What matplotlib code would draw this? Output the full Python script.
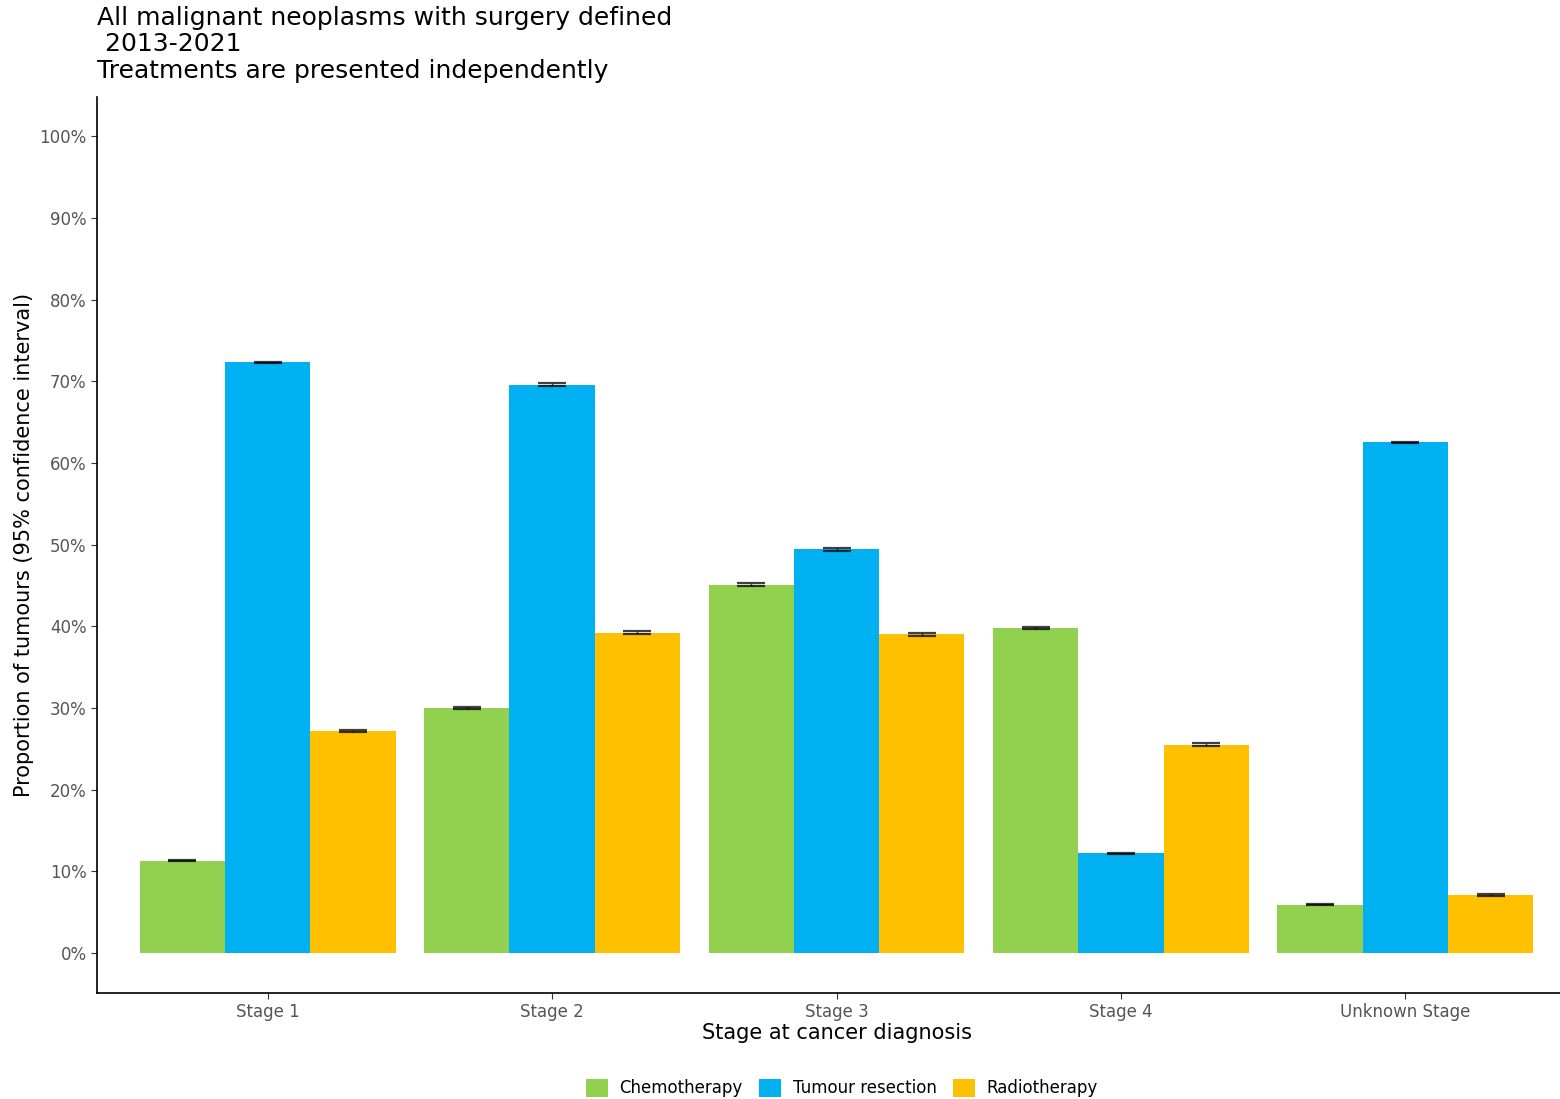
import numpy as np
import matplotlib
matplotlib.use("Agg")
import matplotlib.pyplot as plt
from matplotlib.ticker import FuncFormatter

plt.rcParams['font.family'] = ['DejaVu Sans']

stages = ["Stage 1", "Stage 2", "Stage 3", "Stage 4", "Unknown Stage"]
treatments = ["Chemotherapy", "Tumour resection", "Radiotherapy"]
chemo = [11.3, 30.0, 45.1, 39.8, 5.9]
resection = [72.3, 69.6, 49.4, 12.2, 62.5]
radio = [27.2, 39.2, 39.0, 25.5, 7.1]
chemo_ci = [0.10, 0.15, 0.20, 0.15, 0.08]
resection_ci = [0.10, 0.15, 0.20, 0.10, 0.10]
radio_ci = [0.12, 0.18, 0.20, 0.15, 0.08]
colors = ["#92d050", "#00b0f0", "#ffc000"]

fig = plt.figure(figsize=(15.6, 10.99), dpi=100)
ax = fig.add_axes([97 / 1560, 1 - 993 / 1099, (1576 - 97) / 1560, (993 - 97) / 1099])

x = np.arange(len(stages))
w = 0.3
series = [chemo, resection, radio]
cis = [chemo_ci, resection_ci, radio_ci]
for i, (vals, ci, col, lab) in enumerate(zip(series, cis, colors, treatments)):
    pos = x + (i - 1) * w
    ax.bar(pos, vals, width=w, color=col, label=lab, linewidth=0)
    ax.errorbar(pos, vals, yerr=ci, fmt="none", ecolor="black", elinewidth=1,
                capsize=10, capthick=1.6, alpha=0.75)

ax.set_xlim(-0.6, 4.6)
ax.set_ylim(-4.9, 104.8)
ax.set_yticks(np.arange(0, 101, 10))
ax.yaxis.set_major_formatter(FuncFormatter(lambda v, p: f"{int(v)}%"))
ax.set_xticks(x)
ax.set_xticklabels(stages)
ax.tick_params(axis="both", colors="#333333", labelcolor="#555555", labelsize=12, length=4, width=0.8)

for s in ["top", "right"]:
    ax.spines[s].set_visible(False)
for s in ["left", "bottom"]:
    ax.spines[s].set_linewidth(1.2)

ax.set_xlabel("Stage at cancer diagnosis", fontsize=15, labelpad=1)
ax.set_ylabel("Proportion of tumours (95% confidence interval)", fontsize=15, labelpad=4)

fig.text(97 / 1560, 1 - 6 / 1099,
         "All malignant neoplasms with surgery defined\n 2013-2021\nTreatments are presented independently",
         fontsize=18, va="top", ha="left", linespacing=1.12)

handles, labels = ax.get_legend_handles_labels()
fig.legend(handles, labels, loc="center", bbox_to_anchor=(842 / 1560, 1 - 1088 / 1099), ncol=3,
           frameon=False, fontsize=12, handlelength=1.3, handleheight=1.3, columnspacing=1.0,
           handletextpad=0.7)

fig.savefig("out.png", dpi=100)
